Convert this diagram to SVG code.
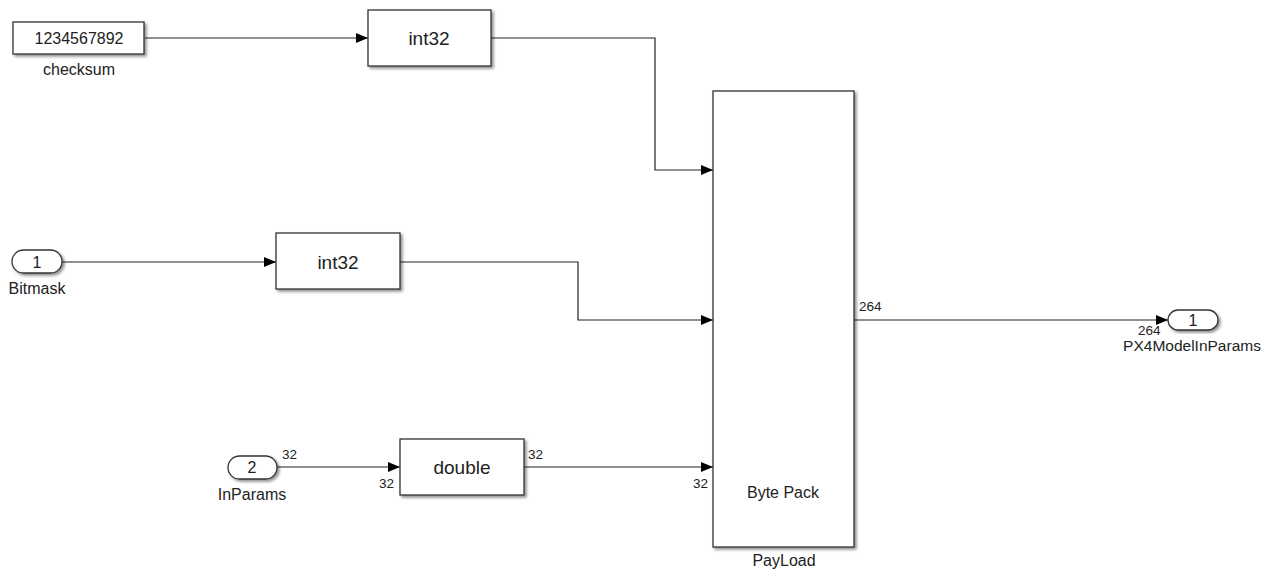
<svg xmlns="http://www.w3.org/2000/svg" width="1275" height="571" viewBox="0 0 1275 571">
<defs>
<filter id="sh" x="-10%" y="-10%" width="130%" height="130%">
<feGaussianBlur in="SourceAlpha" stdDeviation="1.5"/>
<feOffset dx="2" dy="2" result="b"/>
<feComponentTransfer><feFuncA type="linear" slope="0.45"/></feComponentTransfer>
<feMerge><feMergeNode/><feMergeNode in="SourceGraphic"/></feMerge>
</filter>
<marker id="arr" markerWidth="12" markerHeight="10" refX="12" refY="5" orient="auto" markerUnits="userSpaceOnUse">
<path d="M0,0 L12,5 L0,10 Z" fill="#000"/>
</marker>
</defs>
<style>
.blk{fill:#fff;stroke:#333;stroke-width:1.3;filter:url(#sh)}
.ln{fill:none;stroke:#222;stroke-width:1.2;marker-end:url(#arr)}
text{font-family:"Liberation Sans",Arial,sans-serif;fill:#222}
.bt{font-size:19px;text-anchor:middle}
.lb{font-size:16px;text-anchor:middle}
.sm{font-size:13.5px}
.pn{font-size:16px;text-anchor:middle}
</style>
<rect width="1275" height="571" fill="#fff"/>
<g id="connectors">
<path class="ln" d="M145,38 H368"/>
<path class="ln" d="M491,38 H655 V170 H713"/>
<path class="ln" d="M62,262 H276"/>
<path class="ln" d="M400,262 H578 V320 H713"/>
<path class="ln" d="M277,467 H400"/>
<path class="ln" d="M524,467 H713"/>
<path class="ln" d="M854,320 H1168"/>
<text class="sm" x="282" y="459">32</text>
<text class="sm" x="379" y="488">32</text>
<text class="sm" x="528" y="459">32</text>
<text class="sm" x="693" y="488">32</text>
<text class="sm" x="859" y="311">264</text>
<text class="sm" x="1138" y="335">264</text>
</g>
<g id="checksum">
<rect class="blk" x="13" y="22" width="131" height="32"/>
<text x="79" y="44" font-size="16" text-anchor="middle">1234567892</text>
<text class="lb" x="79" y="75">checksum</text>
</g>
<g id="int32a">
<rect class="blk" x="368" y="10" width="123" height="56"/>
<text class="bt" x="429" y="45">int32</text>
</g>
<g id="bitmask">
<rect class="blk" x="12" y="250" width="50" height="23" rx="11.5"/>
<text class="pn" x="37" y="268">1</text>
<text class="lb" x="37" y="294">Bitmask</text>
</g>
<g id="int32b">
<rect class="blk" x="276" y="233" width="124" height="56"/>
<text class="bt" x="338" y="269">int32</text>
</g>
<g id="inparams">
<rect class="blk" x="228" y="456" width="49" height="23" rx="11.5"/>
<text class="pn" x="252" y="473">2</text>
<text class="lb" x="252" y="500">InParams</text>
</g>
<g id="double">
<rect class="blk" x="400" y="439" width="124" height="56"/>
<text class="bt" x="462" y="474">double</text>
</g>
<g id="payload">
<rect class="blk" x="713" y="91" width="141" height="456"/>
<text class="lb" x="783" y="498">Byte Pack</text>
<text class="lb" x="784" y="566">PayLoad</text>
</g>
<g id="out1">
<rect class="blk" x="1168" y="310" width="50" height="20" rx="10"/>
<text class="pn" x="1193" y="326">1</text>
<text x="1192" y="351" font-size="15.5" text-anchor="middle">PX4ModelInParams</text>
</g>
</svg>
